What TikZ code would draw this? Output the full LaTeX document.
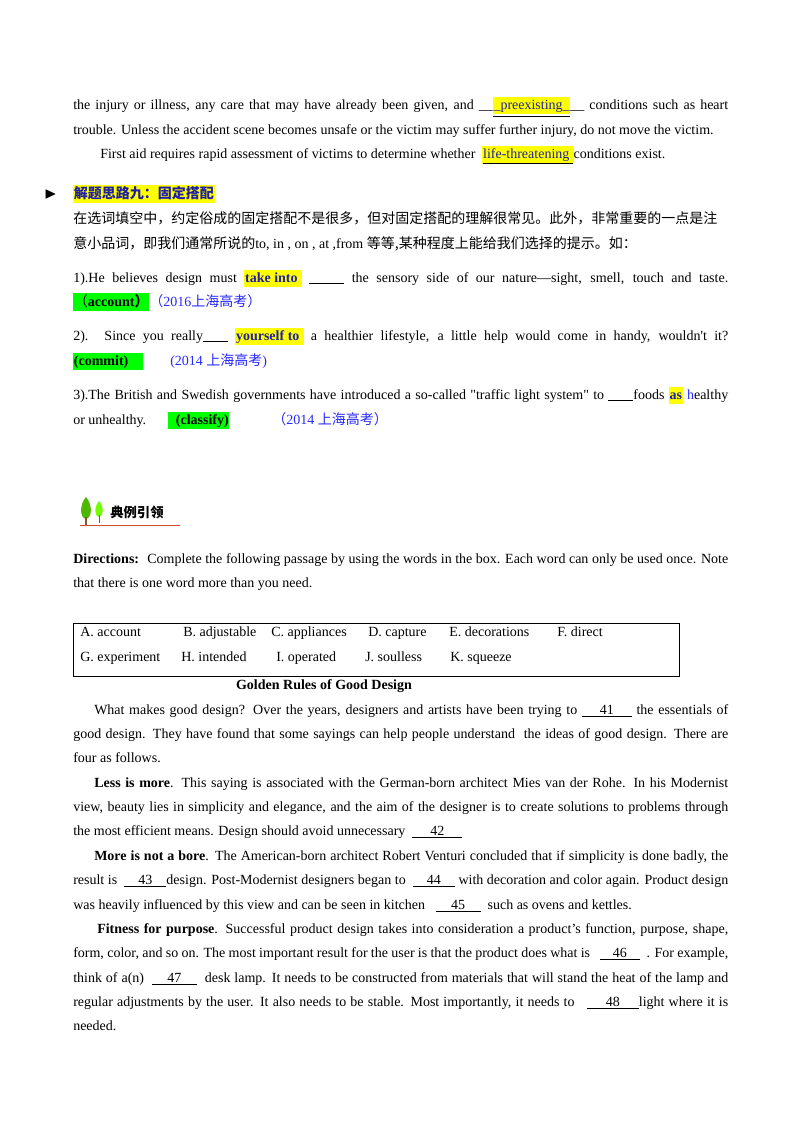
\documentclass[tikz,border=0pt]{standalone}
\usepackage{amssymb}
\usepackage{fontspec}
\setmainfont{Liberation Serif}
\newfontfamily\nl{Liberation Serif}[Ligatures=ResetAll]
\newfontfamily\cjk{Noto Sans CJK SC}
\newlength\px \setlength\px{0.75pt}
\definecolor{hy}{RGB}{255,255,0}
\definecolor{hg}{RGB}{0,255,0}
\definecolor{dblue}{RGB}{30,30,170}
\definecolor{lblue}{RGB}{40,40,255}
\setlength\fboxsep{0.5pt}
\XeTeXinterchartoks 1 1 = {\hskip 0pt plus 1pt}
\XeTeXinterchartoks 1 2 = {\hskip 0pt plus 1pt}
\XeTeXinterchartoks 1 3 = {\hskip 0pt plus 1pt}
\XeTeXinterchartoks 2 1 = {\hskip 0pt plus 1pt}
\XeTeXinterchartoks 3 1 = {\hskip 0pt plus 1pt}
\XeTeXinterchartoks 3 2 = {\hskip 0pt plus 1pt}
\XeTeXinterchartoks 2 3 = {\hskip 0pt plus 1pt}
\newcommand\hY[1]{\colorbox{hy}{\strut #1}}
\newcommand\hG[1]{\colorbox{hg}{\strut #1}}
\newcommand\blk[2]{\underline{\makebox[#1\px]{#2}}}
\newcommand\Ln[4]{\node[txt] (#1) at (#2,#3+4) {#4};}
\newcommand\Jn[5]{\node[txt] (#1) at (#2,#3+4) {\makebox[#4\px][s]{#5}};}
\begin{document}
\begin{tikzpicture}[x=0.75pt,y=-0.75pt,
 txt/.style={anchor=base west,inner sep=0pt,font=\fontsize{10.5pt}{12pt}\selectfont}]
\useasboundingbox[fill=white] (0,0) rectangle (800,1132);
\Jn{a1}{73}{105}{655}{the injury or illness, any care that may have already been given, and \_\_\underline{\hY{\color{dblue}\_preexisting\_}}\_\_ conditions such as heart}
\Ln{a2}{73}{130}{trouble. Unless the accident scene becomes unsafe or the victim may suffer further injury, do not move the victim.}
\Ln{a3}{100}{154}{First aid requires rapid assessment of victims to determine whether \ \hY{\underline{\color{dblue}life-threatening\ }}conditions exist.}
\Ln{b0}{44}{194}{\large$\blacktriangleright$}
\Ln{b1}{73}{194}{\hY{\cjk\bfseries\color{dblue}解题思路九：固定搭配}}
\node[txt] (b2) at (73,223) {\XeTeXinterchartokenstate=1 \makebox[655\px][s]{\cjk\fontsize{10.5pt}{12pt}\selectfont 在选词填空中，约定俗成的固定搭配不是很多，但对固定搭配的理解很常见。此外，非常重要的一点是注}};
\Ln{b3}{73}{244}{{\cjk\fontsize{10.5pt}{12pt}\selectfont 意小品词，即我们通常所说的}to, in , on , at ,from {\cjk\fontsize{10.5pt}{12pt}\selectfont 等等,某种程度上能给我们选择的提示。如：}}
\Jn{c1}{73}{278}{655}{1).He believes design must \hY{\bfseries\color{dblue}take into\ } \rule[-1pt]{35\px}{0.5pt} the sensory side of our nature---sight, smell, touch and taste.}
\Ln{c2}{73}{302}{\hG{\cjk（\rmfamily\bfseries account\cjk）}{\color{lblue}\cjk（\rmfamily 2016\cjk 上海高考）}}
\Jn{d1}{73}{336}{655}{2). Since you really\rule[-1pt]{25\px}{0.5pt} \hY{\bfseries\color{dblue}yourself to\ } a healthier lifestyle, a little help would come in handy, wouldn{\nl '}t it?}
\Ln{d2}{73}{361}{\hG{\bfseries (commit)\hspace{14\px}}}
\Ln{d3}{170}{361}{\color{lblue}(2014 {\cjk 上海高考})}
\Jn{e1}{73}{395}{655}{3).The British and Swedish governments have introduced a so-called {\nl "}traffic light system{\nl "} to \rule[-1pt]{25\px}{0.5pt}foods \hY{\bfseries\color{dblue}as} {\color{lblue}h}ealthy}
\Ln{e2}{73}{420}{or unhealthy.}
\Ln{e3}{168}{420}{\hG{\bfseries\ \ (classify)}}
\Ln{e4}{272}{420}{\color{lblue}{\cjk（}2014 {\cjk 上海高考）}}
% icon
\fill[green!60!black!70!yellow] (86,497) .. controls (93,505) and (92,518) .. (86,519) .. controls (80,518) and (79,505) .. (86,497);
\fill[green!55!yellow] (99,501) .. controls (104,507) and (104,516) .. (99,517) .. controls (94,516) and (94,507) .. (99,501);
\draw[brown!70!black,line width=0.8pt] (86,517) -- (86,525);
\draw[brown!70!black,line width=0.6pt] (99,515) -- (99,523);
\draw[red!40!brown,line width=0.6pt] (80,525) -- (180,525);
\Ln{ic}{110}{513}{{\cjk\bfseries\fontsize{10pt}{12pt}\selectfont 典例引领}}
\Jn{f1}{73}{559}{655}{\textbf{Directions:} \ Complete the following passage by using the words in the box. Each word can only be used once. Note}
\Ln{f2}{73}{583}{that there is one word more than you need.}
\node[draw,line width=0.7pt,minimum width=606\px,minimum height=53\px,anchor=north west,inner sep=0pt] (box) at (73,623) {};
\Ln{g1}{80}{632}{A. account}\Ln{g2}{183}{632}{B. adjustable}\Ln{g3}{271}{632}{C. appliances}\Ln{g4}{368}{632}{D. capture}\Ln{g5}{449}{632}{E. decorations}\Ln{g6}{557}{632}{F. direct}
\Ln{h1}{80}{657}{G. experiment}\Ln{h2}{181}{657}{H. intended}\Ln{h3}{276}{657}{I. operated}\Ln{h4}{365}{657}{J. soulless}\Ln{h5}{450}{657}{K. squeeze}
\node[txt,anchor=base] (ttl) at (324,689) {\bfseries Golden Rules of Good Design};
\Jn{p1}{94}{710}{634}{What makes good design? Over the years, designers and artists have been trying to \blk{50}{41} the essentials of}
\Jn{p2}{73}{734}{655}{good design. They have found that some sayings can help people understand \ the ideas of good design. There are}
\Ln{p3}{73}{758}{four as follows.}
\Jn{p4}{94}{783}{634}{\textbf{Less is more}. This saying is associated with the German-born architect Mies van der Rohe. In his Modernist}
\Jn{p5}{73}{807}{655}{view, beauty lies in simplicity and elegance, and the aim of the designer is to create solutions to problems through}
\Ln{p6}{73}{831}{the most efficient means. Design should avoid unnecessary \ \blk{50}{42}}
\Jn{p7}{94}{856}{634}{\textbf{More is not a bore}. The American-born architect Robert Venturi concluded that if simplicity is done badly, the}
\Jn{p8}{73}{880}{655}{result is \ \blk{42}{43}design. Post-Modernist designers began to \ \blk{42}{44} with decoration and color again. Product design}
\Ln{p9}{73}{905}{was heavily influenced by this view and can be seen in kitchen \ \ \blk{45}{45} \ such as ovens and kettles.}
\Jn{p10}{97}{929}{631}{\textbf{Fitness for purpose}. Successful product design takes into consideration a product's function, purpose, shape,}
\Jn{p11}{73}{953}{655}{form, color, and so on. The most important result for the user is that the product does what is \ \ \blk{40}{46} \ . For example,}
\Jn{p12}{73}{978}{655}{think of a(n) \ \blk{45}{47} \ desk lamp. It needs to be constructed from materials that will stand the heat of the lamp and}
\Jn{p13}{73}{1002}{655}{regular adjustments by the user. It also needs to be stable. Most importantly, it needs to \ \ \blk{52}{48}light where it is}
\Ln{p14}{73}{1026}{needed.}
\end{tikzpicture}
\end{document}
